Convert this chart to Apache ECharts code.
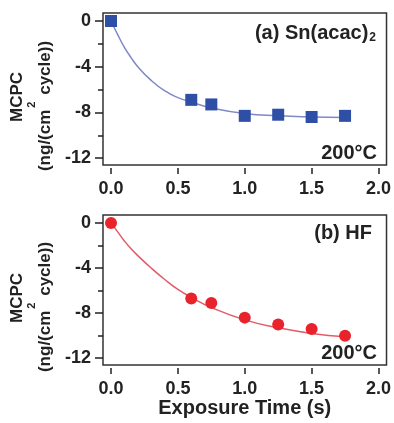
<!DOCTYPE html>
<html>
<head>
<meta charset="utf-8">
<script src="https://cdn.jsdelivr.net/npm/echarts@6/dist/echarts.min.js"></script>
<style>
  html, body { margin: 0; padding: 0; background: #fff; }
  #chart { width: 394px; height: 423px; }
</style>
</head>
<body>
<div id="chart"></div>
<script>
// exposure times of the measured points (s)
const times = [0, 0.6, 0.75, 1.0, 1.25, 1.5, 1.75];
// (a) Sn(acac)2 MCPC values
const snValues = [0, -6.9, -7.3, -8.3, -8.2, -8.4, -8.3];
// (b) HF MCPC values
const hfValues = [0, -6.7, -7.1, -8.4, -9.0, -9.4, -10.0];

// fit curves
const fitTimes = [0, 0.05, 0.1, 0.15, 0.2, 0.3, 0.4, 0.5, 0.6, 0.75, 1.0, 1.25, 1.5, 1.75];
const snFit = [0, -1.2, -2.3, -3.2, -4.0, -5.2, -6.1, -6.7, -7.1, -7.6, -8.1, -8.3, -8.4, -8.45];
const hfFit = [0, -0.8, -1.6, -2.3, -2.9, -4.0, -5.0, -5.9, -6.6, -7.5, -8.6, -9.3, -9.8, -10.1];

const xTicks = [0, 0.5, 1.0, 1.5, 2.0];
const yTicks = [-12, -8, -4, 0];
const yMinorTicks = [-10, -6, -2];

const pairs = (xs, ys) => xs.map((x, i) => [x, ys[i]]);

const FONT = 'Liberation Sans';
const INK = '#222';

const chart = echarts.init(document.getElementById('chart'));

function xAxisFor(gridIndex, withName) {
  return {
    type: 'value', gridIndex: gridIndex, position: 'bottom',
    min: -0.06, max: 2.06, offset: 3,
    axisLine: { show: false, onZero: false },
    axisTick: { show: true, length: 6, lineStyle: { color: INK, width: 1.5 }, customValues: xTicks },
    axisLabel: {
      customValues: xTicks, margin: 12,
      formatter: v => v.toFixed(1),
      color: INK, fontFamily: FONT, fontWeight: 'bold', fontSize: 18
    },
    splitLine: { show: false },
    name: withName ? 'Exposure Time (s)' : '',
    nameLocation: 'middle', nameGap: 30,
    nameTextStyle: { color: INK, fontFamily: FONT, fontWeight: 'bold', fontSize: 20 }
  };
}

function yAxisFor(gridIndex) {
  return {
    type: 'value', gridIndex: gridIndex, position: 'left',
    min: -12.6, max: 0.7,
    axisLine: { show: false, onZero: false },
    axisTick: { show: true, length: 8, lineStyle: { color: INK, width: 1.5 }, customValues: yTicks },
    axisLabel: {
      customValues: yTicks, margin: 12,
      color: INK, fontFamily: FONT, fontWeight: 'bold', fontSize: 18
    },
    splitLine: { show: false }
  };
}

function yMinorFor(gridIndex) {
  return {
    type: 'value', gridIndex: gridIndex, position: 'left', offset: 0,
    min: -12.6, max: 0.7,
    axisLine: { show: false, onZero: false },
    axisTick: { show: true, length: 5, lineStyle: { color: INK, width: 1.5 }, customValues: yMinorTicks },
    axisLabel: { show: false },
    splitLine: { show: false }
  };
}

const bold = (size) => ({ fill: INK, fontFamily: FONT, fontWeight: 'bold', fontSize: size });

// y axis titles, two rotated lines per panel
function yTitle(gridCenter) {
  return [
    {
      type: 'text', x: 17, y: gridCenter + 8, rotation: Math.PI / 2,
      style: Object.assign(bold(17), { text: 'MCPC', align: 'center', verticalAlign: 'middle' })
    },
    {
      type: 'text', x: 45, y: gridCenter + 17, rotation: Math.PI / 2,
      style: Object.assign(bold(17), {
        text: '{a|(ng/(cm}{s|2}{a| cycle))}', align: 'center', verticalAlign: 'middle',
        rich: {
          a: Object.assign(bold(17), { lineHeight: 38 }),
          s: Object.assign(bold(11), { lineHeight: 38, verticalAlign: 'top', padding: [0, 2, 0, 2] })
        }
      })
    }
  ];
}

chart.setOption({
  animation: false,
  grid: [
    { left: 103, top: 13, width: 284, height: 152, show: true, borderColor: '#333', borderWidth: 1.5, backgroundColor: 'transparent' },
    { left: 103, top: 215, width: 284, height: 150, show: true, borderColor: '#333', borderWidth: 1.5, backgroundColor: 'transparent' }
  ],
  xAxis: [xAxisFor(0, false), xAxisFor(1, true)],
  yAxis: [yAxisFor(0), yMinorFor(0), yAxisFor(1), yMinorFor(1)],
  series: [
    {
      type: 'line', xAxisIndex: 0, yAxisIndex: 0, smooth: true, showSymbol: false,
      lineStyle: { color: '#7f89c8', width: 1.5 }, data: pairs(fitTimes, snFit), z: 2
    },
    {
      type: 'scatter', xAxisIndex: 0, yAxisIndex: 0, symbol: 'rect', symbolSize: 12,
      itemStyle: { color: '#2f4fa6', opacity: 1 }, data: pairs(times, snValues), z: 3
    },
    {
      type: 'line', xAxisIndex: 1, yAxisIndex: 2, smooth: true, showSymbol: false,
      lineStyle: { color: '#e35b66', width: 1.5 }, data: pairs(fitTimes, hfFit), z: 2
    },
    {
      type: 'scatter', xAxisIndex: 1, yAxisIndex: 2, symbol: 'circle', symbolSize: 12,
      itemStyle: { color: '#e8232b', opacity: 1 }, data: pairs(times, hfValues), z: 3
    }
  ],
  graphic: [
    ...yTitle(89),
    ...yTitle(290),
    {
      type: 'text', x: 376, y: 33,
      style: Object.assign(bold(20), {
        text: '{n|(a) Sn(acac)}{b|2}', align: 'right', verticalAlign: 'middle',
        rich: {
          n: bold(20),
          b: Object.assign(bold(12), { padding: [9, 0, 0, 1] })
        }
      })
    },
    { type: 'text', x: 377, y: 153, style: Object.assign(bold(20), { text: '200°C', align: 'right', verticalAlign: 'middle' }) },
    { type: 'text', x: 372, y: 233, style: Object.assign(bold(20), { text: '(b) HF', align: 'right', verticalAlign: 'middle' }) },
    { type: 'text', x: 377, y: 353, style: Object.assign(bold(20), { text: '200°C', align: 'right', verticalAlign: 'middle' }) }
  ]
});
</script>
</body>
</html>
